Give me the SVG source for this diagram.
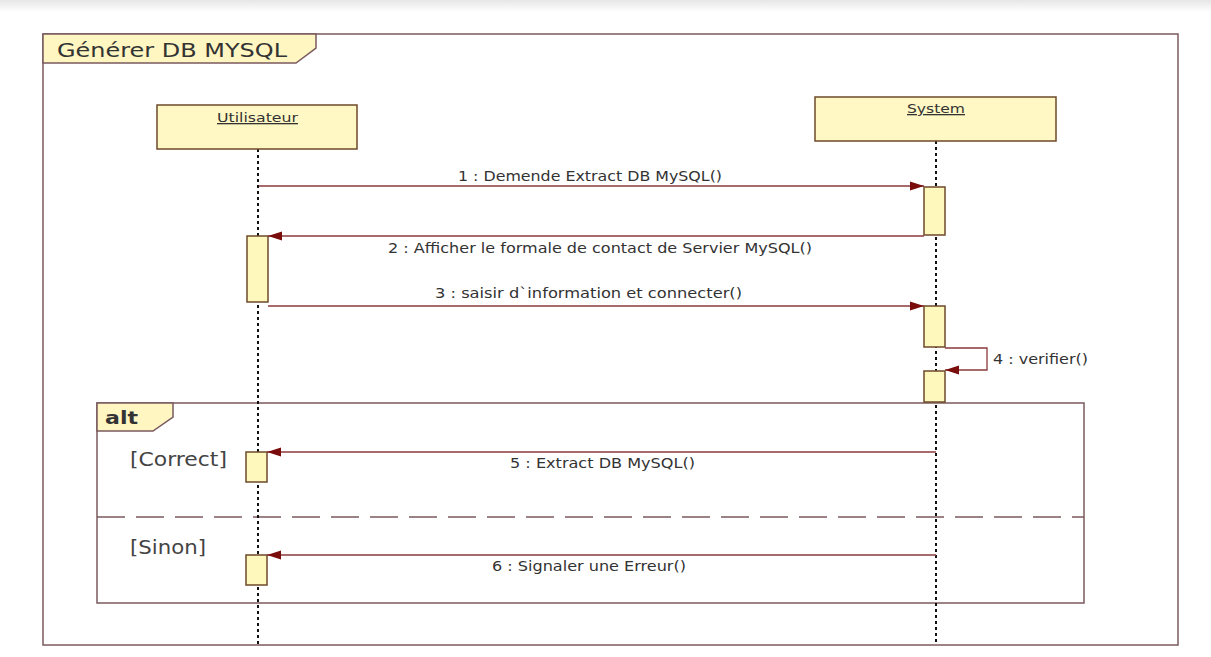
<svg xmlns="http://www.w3.org/2000/svg" width="1211" height="657" viewBox="0 0 1211 657">
<style>
.frame{fill:none;stroke:#7a5a5e;stroke-width:1.5}
.tab{fill:#fff6c2;stroke:#7a5a5e;stroke-width:1.5}
.box{fill:#fff8c4;stroke:#6e4a2a;stroke-width:1.5}
.act{fill:#fff8bc;stroke:#6e4a2a;stroke-width:1.5}
.life{stroke:#111;stroke-width:2;stroke-dasharray:3 3;fill:none}
.msg{stroke:#8a3a3a;stroke-width:1.3;fill:none}
.lbl{font-family:"DejaVu Sans",sans-serif;font-size:13.5px;fill:#333}
.name{font-family:"DejaVu Sans",sans-serif;font-size:13px;fill:#333;text-decoration:underline}
.guard{font-family:"DejaVu Sans",sans-serif;font-size:19px;fill:#444}
</style>
<defs>
<linearGradient id="topg" x1="0" y1="0" x2="0" y2="1">
<stop offset="0" stop-color="#e6e6e6"/><stop offset="1" stop-color="#ffffff"/>
</linearGradient>
<marker id="ah" markerWidth="14" markerHeight="10" refX="14" refY="5" orient="auto" markerUnits="userSpaceOnUse">
<path d="M0,0.5 L14,5 L0,9.5 Z" fill="#7a0c0c"/>
</marker>
</defs>
<rect width="1211" height="657" fill="#ffffff"/>
<rect width="1211" height="12" fill="url(#topg)"/>

<g id="frame-main">
<rect class="frame" x="43" y="34" width="1135" height="611"/>
<polygon class="tab" points="43,34 316,34 316,48 296,63 43,63"/>
<text x="57" y="57" textLength="230" lengthAdjust="spacingAndGlyphs" style="font-family:'DejaVu Sans',sans-serif;font-size:19px;fill:#333">Générer DB MYSQL</text>
</g>

<g id="frame-alt">
<rect class="frame" x="97" y="403" width="987" height="200"/>
<polygon class="tab" points="97,403 173,403 173,417 153,431 97,431"/>
<text x="105" y="424" textLength="33" lengthAdjust="spacingAndGlyphs" style="font-family:'DejaVu Sans',sans-serif;font-size:18px;font-weight:bold;fill:#333">alt</text>
<line x1="97" y1="517" x2="1084" y2="517" stroke="#7a5a5e" stroke-width="1.5" stroke-dasharray="28 11"/>
<text class="guard" x="130" y="466" textLength="97" lengthAdjust="spacingAndGlyphs">[Correct]</text>
<text class="guard" x="130" y="554" textLength="76" lengthAdjust="spacingAndGlyphs">[Sinon]</text>
</g>

<g id="lifeline-utilisateur">
<line class="life" x1="258" y1="149" x2="258" y2="645"/>
<rect class="box" x="157" y="105" width="200" height="44"/>
<text class="name" x="217" y="122" textLength="81" lengthAdjust="spacingAndGlyphs">Utilisateur</text>
<rect class="act" x="247" y="236" width="21" height="66"/>
<rect class="act" x="246" y="452" width="21" height="30"/>
<rect class="act" x="246" y="555" width="21" height="30"/>
</g>

<g id="lifeline-system">
<line class="life" x1="936" y1="141" x2="936" y2="645"/>
<rect class="box" x="815" y="97" width="241" height="44"/>
<text class="name" x="907" y="113" textLength="58" lengthAdjust="spacingAndGlyphs">System</text>
<rect class="act" x="924" y="187" width="21" height="48"/>
<rect class="act" x="924" y="306" width="21" height="41"/>
<rect class="act" x="924" y="371" width="21" height="31"/>
</g>

<g id="connectors">
<line class="msg" x1="259" y1="186" x2="924" y2="186" marker-end="url(#ah)"/>
<text class="lbl" x="458" y="181" textLength="264" lengthAdjust="spacingAndGlyphs">1 : Demende Extract DB MySQL()</text>
<line class="msg" x1="924" y1="236" x2="268" y2="236" marker-end="url(#ah)"/>
<text class="lbl" x="388" y="253" textLength="424" lengthAdjust="spacingAndGlyphs">2 : Afficher le formale de contact de Servier MySQL()</text>
<line class="msg" x1="268" y1="306" x2="924" y2="306" marker-end="url(#ah)"/>
<text class="lbl" x="435" y="298" textLength="307" lengthAdjust="spacingAndGlyphs">3 : saisir d`information et  connecter()</text>
<polyline class="msg" points="945,348 987,348 987,370 945,370" marker-end="url(#ah)"/>
<text class="lbl" x="993" y="364" textLength="95" lengthAdjust="spacingAndGlyphs">4 : verifier()</text>
<line class="msg" x1="936" y1="452" x2="267" y2="452" marker-end="url(#ah)"/>
<text class="lbl" x="510" y="468" textLength="185" lengthAdjust="spacingAndGlyphs">5 : Extract DB MySQL()</text>
<line class="msg" x1="936" y1="555" x2="267" y2="555" marker-end="url(#ah)"/>
<text class="lbl" x="492" y="571" textLength="194" lengthAdjust="spacingAndGlyphs">6 : Signaler une Erreur()</text>
</g>
</svg>
